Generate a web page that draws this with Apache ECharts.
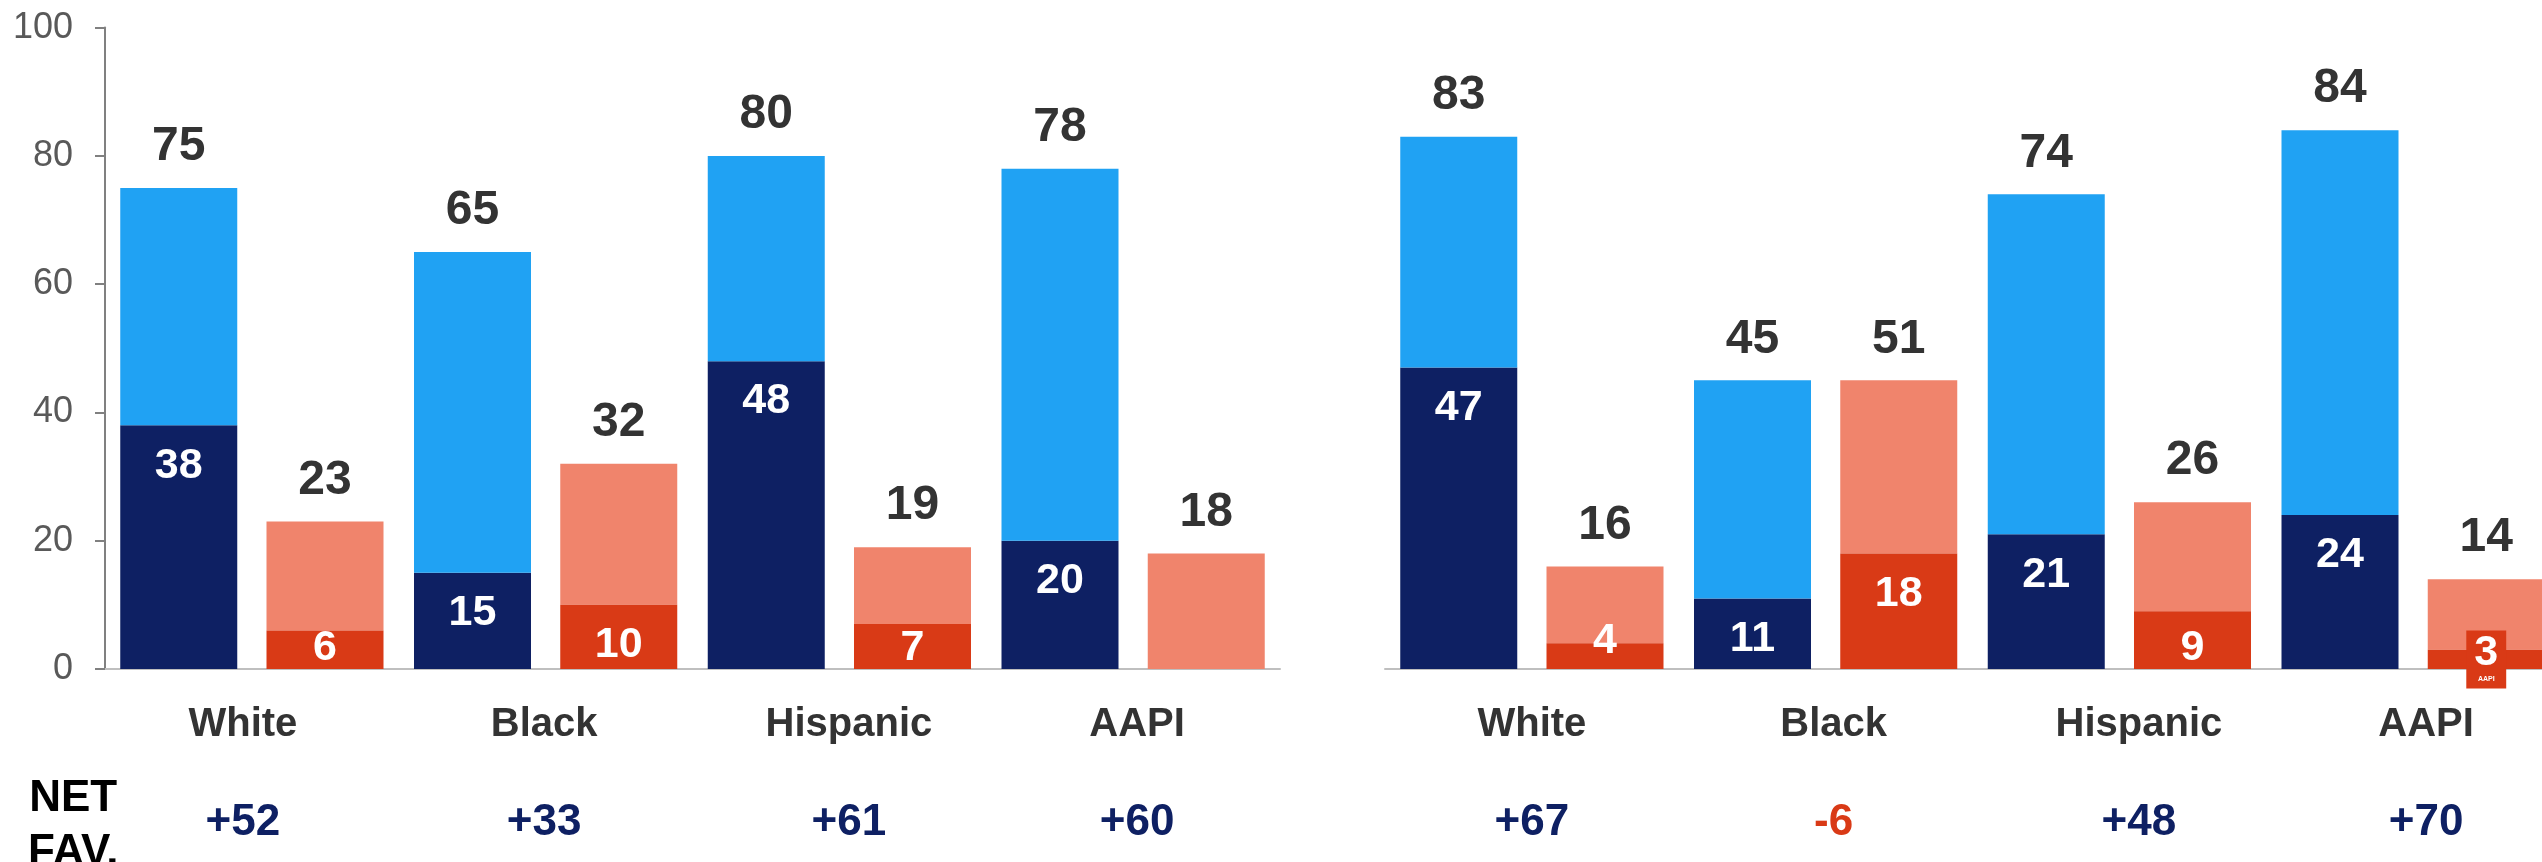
<!DOCTYPE html>
<html><head><meta charset="utf-8">
<script src="https://cdn.jsdelivr.net/npm/echarts@6/dist/echarts.min.js"></script>
<style>html,body{margin:0;padding:0;background:#fff;overflow:hidden}#c{width:2560px;height:862px}</style>
</head><body><div id="c"></div>
<script>
const categories = ['White', 'Black', 'Hispanic', 'AAPI'];
const yTicks = [0, 20, 40, 60, 80, 100];
// Left panel
const leftFavTotal = [75, 65, 80, 78];
const leftFavVery = [38, 15, 48, 20];
const leftUnfavTotal = [23, 32, 19, 18];
const leftUnfavVery = [6, 10, 7, 0];
const leftNetFav = ['+52', '+33', '+61', '+60'];
// Right panel
const rightFavTotal = [83, 45, 74, 84];
const rightFavVery = [47, 11, 21, 24];
const rightUnfavTotal = [16, 51, 26, 14];      // printed totals
const rightUnfavDrawn = [16, 45, 26, 14];      // bar heights as drawn in the picture
const rightUnfavVery = [4, 18, 9, 3];
const rightNetFav = ['+67', '-6', '+48', '+70'];

// ---- styling ----
const NAVY = '#0E2063', LBLUE = '#20A2F3', SALMON = '#F0846C', DRED = '#D93A16';
const FONT = "'Liberation Sans', Arial, Helvetica, sans-serif";
const LABEL_SHIFT = [[-9, -1.5, 9.5, 4], [0, 8, 19.5, 13]];   // px, horizontal nudge of bottom texts

function innerLabel(v, special) {
  if (!v) return { show: false };
  const base = { show: true, color: '#fff', fontSize: 43, fontWeight: 'bold', fontFamily: FONT };
  if (special) {
    return Object.assign(base, {
      position: 'inside', backgroundColor: DRED, padding: [3, 8, 3, 8],
      formatter: '{a|' + v + '}\n{b|AAPI}',
      rich: { a: { fontSize: 43, fontWeight: 'bold', color: '#fff', lineHeight: 40, fontFamily: FONT, align: 'center' },
              b: { fontSize: 7, color: '#fff', lineHeight: 12, fontFamily: FONT, align: 'center' } }
    });
  }
  if (v < 5) return Object.assign(base, { position: 'insideBottom', distance: 6 });
  if (v < 10) return Object.assign(base, { position: 'insideBottom', distance: -1 });
  return Object.assign(base, { position: 'insideTop', distance: 19 });
}
const topLabel = (totals) => ({
  show: true, position: 'top', distance: 17, fontSize: 48, fontWeight: 'bold', color: '#333333', fontFamily: FONT,
  formatter: p => totals[p.dataIndex]
});

function panelSeries(gi, favTotal, favVery, unfavTotal, unfavDrawn, unfavVery, specialIdx) {
  const common = { type: 'bar', xAxisIndex: gi * 2, yAxisIndex: gi, barWidth: 117, barGap: '25%', animation: false };
  return [
    Object.assign({}, common, { stack: 'fav' + gi, itemStyle: { color: NAVY },
      data: favVery.map(v => ({ value: v, label: innerLabel(v) })) }),
    Object.assign({}, common, { stack: 'fav' + gi, itemStyle: { color: LBLUE },
      data: favTotal.map((t, i) => t - favVery[i]), label: topLabel(favTotal) }),
    Object.assign({}, common, { stack: 'unfav' + gi, itemStyle: { color: DRED }, z: 5,
      data: unfavVery.map((v, i) => ({ value: v, label: innerLabel(v, i === specialIdx) })) }),
    Object.assign({}, common, { stack: 'unfav' + gi, itemStyle: { color: SALMON },
      data: unfavDrawn.map((t, i) => t - unfavVery[i]), label: topLabel(unfavTotal) })
  ];
}

function padFor(s) { return s >= 0 ? [0, 0, 0, 2 * s] : [0, -2 * s, 0, 0]; }

function catAxis(gi) {
  const st = { fontSize: 40, fontWeight: 'bold', color: '#333333', fontFamily: FONT };
  const rich = {};
  LABEL_SHIFT[gi].forEach((s, i) => { rich['s' + i] = Object.assign({ padding: padFor(s) }, st); });
  return {
    type: 'category', gridIndex: gi, data: categories, position: 'bottom',
    axisLine: { show: true, lineStyle: { color: '#BFBFBF', width: 2 } },
    axisTick: { show: false },
    axisLabel: Object.assign({ interval: 0, hideOverlap: false, margin: 36,
      formatter: (v, i) => '{s' + i + '|' + v + '}', rich: rich }, st)
  };
}
function netAxis(gi, net) {
  const rich = {};
  LABEL_SHIFT[gi].forEach((s, i) => {
    rich['p' + i] = { padding: padFor(s), fontSize: 44, fontWeight: 'bold', color: NAVY, fontFamily: FONT };
    rich['n' + i] = { padding: padFor(s), fontSize: 44, fontWeight: 'bold', color: DRED, fontFamily: FONT };
  });
  return {
    type: 'category', gridIndex: gi, data: net, position: 'bottom',
    axisLine: { show: false }, axisTick: { show: false },
    axisLabel: { interval: 0, hideOverlap: false, margin: 132, fontFamily: FONT, fontSize: 44,
      formatter: (v, i) => (v.charAt(0) === '-' ? '{n' + i + '|' + v + '}' : '{p' + i + '|' + v + '}'),
      rich: rich }
  };
}

const chart = echarts.init(document.getElementById('c'));
chart.setOption({
  animation: false,
  backgroundColor: '#ffffff',
  grid: [
    { left: 105, top: 27.6, width: 1175, height: 641.4 },
    { left: 1385, top: 27.6, width: 1175, height: 641.4 }
  ],
  xAxis: [catAxis(0), netAxis(0, leftNetFav), catAxis(1), netAxis(1, rightNetFav)],
  yAxis: [
    { type: 'value', gridIndex: 0, min: yTicks[0], max: yTicks[yTicks.length - 1], interval: yTicks[1] - yTicks[0],
      axisLine: { show: true, lineStyle: { color: '#808080', width: 2 } },
      axisTick: { show: true, length: 10, lineStyle: { color: '#808080', width: 2 } },
      axisLabel: { margin: 32, fontSize: 36, color: '#595959', fontFamily: FONT, padding: [6, 0, 0, 0] },
      splitLine: { show: false } },
    { type: 'value', gridIndex: 1, min: yTicks[0], max: yTicks[yTicks.length - 1], interval: yTicks[1] - yTicks[0],
      show: false, splitLine: { show: false } }
  ],
  graphic: [{
    type: 'text', left: 28, top: 772,
    style: { text: 'NET\nFAV.', fill: '#000', font: 'bold 44px ' + FONT, lineHeight: 54, textAlign: 'center', align: 'center' }
  }],
  series: [].concat(
    panelSeries(0, leftFavTotal, leftFavVery, leftUnfavTotal, leftUnfavTotal, leftUnfavVery, -1),
    panelSeries(1, rightFavTotal, rightFavVery, rightUnfavTotal, rightUnfavDrawn, rightUnfavVery, 3)
  )
});
</script></body></html>
